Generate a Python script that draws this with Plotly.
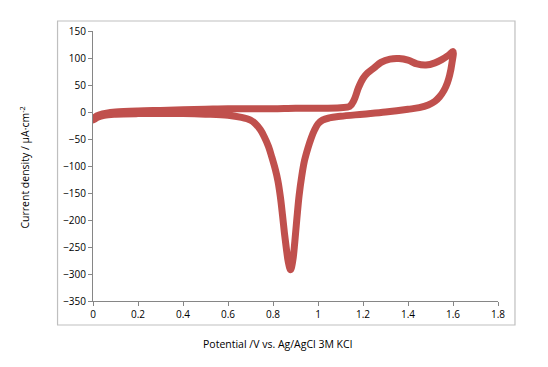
import plotly.graph_objects as go

# Forward (anodic) scan
fwd_v = [0, 0.01, 0.03, 0.06, 0.1, 0.2, 0.3, 0.4, 0.5, 0.6, 0.7, 0.8, 0.9, 1.0, 1.1,
         1.14, 1.16, 1.18, 1.2, 1.22, 1.25, 1.28, 1.32, 1.36, 1.40, 1.44, 1.48, 1.52,
         1.55, 1.58, 1.6]
fwd_i = [-15, -9, -5, -2, 0, 2, 3, 4, 5, 6, 6, 6, 7, 7, 8,
         10, 22, 45, 62, 72, 82, 92, 98, 99, 96, 89, 87, 91,
         97, 105, 112]

# Reverse (cathodic) scan
rev_v = [1.6, 1.595, 1.585, 1.575, 1.56, 1.54, 1.52, 1.49, 1.45, 1.4, 1.3, 1.2, 1.1,
         1.05, 1.02, 1.0, 0.985, 0.97, 0.955, 0.94, 0.928, 0.916, 0.906, 0.897, 0.888,
         0.878, 0.868, 0.86, 0.851, 0.842, 0.833, 0.822, 0.81, 0.795, 0.78, 0.76, 0.744,
         0.72, 0.70, 0.66, 0.6, 0.5, 0.4, 0.3, 0.2, 0.1, 0.05, 0.02, 0]
rev_i = [112, 90, 68, 54, 40, 28, 20, 13, 8, 5, 0, -4, -8,
         -11, -15, -22, -33, -48, -67, -90, -118, -155, -198, -240, -275,
         -292, -278, -255, -225, -190, -158, -128, -106, -84, -64, -45, -33,
         -21, -15, -10, -6, -4, -3, -3, -3, -4, -6, -10, -15]

x_ticks = [0, 0.2, 0.4, 0.6, 0.8, 1, 1.2, 1.4, 1.6, 1.8]
x_tick_labels = ["0", "0.2", "0.4", "0.6", "0.8", "1", "1.2", "1.4", "1.6", "1.8"]
y_ticks = [150, 100, 50, 0, -50, -100, -150, -200, -250, -300, -350]

color = "#C0504D"
fig = go.Figure()
fig.add_trace(go.Scatter(x=fwd_v + rev_v[1:], y=fwd_i + rev_i[1:], mode="lines",
                         line=dict(color=color, width=7, shape="spline", smoothing=1.0),
                         showlegend=False))

# page body has an 8px margin, so work in reference pixel coords minus 8
OFF = 8
W, H = 548 - OFF, 367 - OFF
L, R, T, B = 92.5 - OFF, 498 - OFF, 31 - OFF, 301 - OFF


def px(x):
    return (x - OFF - L) / (R - L)


def py(y):
    return (B - (y - OFF)) / (B - T)


font = "Open Sans, Lato, sans-serif"
fig.update_layout(
    width=W, height=H,
    margin=dict(l=L, r=W - R, t=T, b=H - B),
    paper_bgcolor="white", plot_bgcolor="white",
    font=dict(family=font, size=10, color="black"),
    xaxis=dict(range=[0, 1.8], tickvals=x_ticks, ticktext=x_tick_labels,
               showgrid=False, zeroline=False, showline=True, linecolor="#868686",
               linewidth=1, ticks="outside", ticklen=4, tickcolor="#868686",
               tickfont=dict(size=10, family=font)),
    yaxis=dict(range=[-350, 150], tickvals=y_ticks, showgrid=False, zeroline=False,
               showline=True, linecolor="#868686", linewidth=1, ticks="outside",
               ticklen=4, tickcolor="#868686", tickfont=dict(size=10, family=font)),
    shapes=[dict(type="rect", xref="paper", yref="paper",
                 x0=px(57), x1=px(515), y0=py(325), y1=py(21),
                 line=dict(color="#BFBFBF", width=1.2), fillcolor="rgba(0,0,0,0)",
                 layer="below")],
    annotations=[
        dict(text="Potential /V vs. Ag/AgCl 3M KCl", xref="paper", yref="paper",
             x=px(277), y=py(344), showarrow=False,
             xanchor="center", yanchor="middle", font=dict(size=10.5, family=font)),
        dict(text="Current density / µA·cm<sup>-2</sup>", xref="paper", yref="paper",
             x=px(23), y=py(168), showarrow=False,
             textangle=-90, xanchor="center", yanchor="middle",
             font=dict(size=10.5, family=font)),
    ],
)
fig.write_html("out.html")
